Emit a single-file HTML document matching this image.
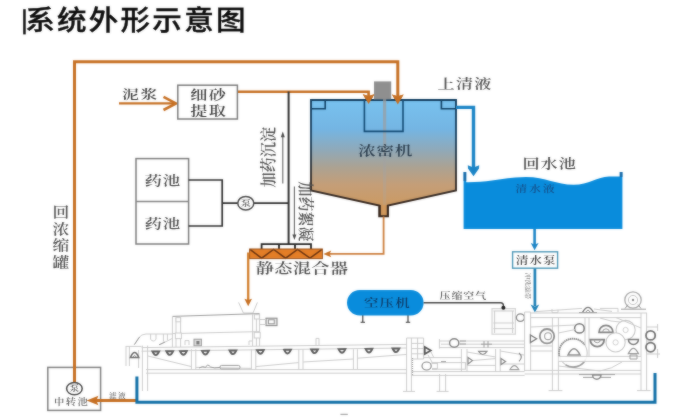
<!DOCTYPE html>
<html lang="zh-CN">
<head>
<meta charset="utf-8">
<title>系统外形示意图</title>
<style>
  html, body { margin: 0; padding: 0; background: #ffffff; }
  body { width: 700px; height: 420px; overflow: hidden; position: relative;
         font-family: "Liberation Sans", "Noto Sans CJK SC", sans-serif; }
  svg { position: absolute; left: 0; top: 0; display: block; }
  .title { font-family: "Liberation Sans", "Noto Sans CJK SC", sans-serif; font-size: 27.4px; font-weight: 500; letter-spacing: 2.05px; fill: #0c0c0c; stroke: #0c0c0c; stroke-width: 0.35px; }
  .lbl { font-family: "Liberation Serif", "Noto Serif CJK SC", serif; fill: #5a5a5a; font-weight: 600; }
  .or { stroke: #c66f22; fill: none; }
  .orf { fill: #c66f22; stroke: none; }
  .bl { stroke: #1a84c6; fill: none; }
  .blf { fill: #1a84c6; stroke: none; }
  .dk { stroke: #2e2e2e; fill: none; }
  .m { stroke: #cbcbcb; fill: none; stroke-width: 1; }
  .m2 { stroke: #9a9a9a; fill: none; stroke-width: 1; }
  .mw { stroke: #cbcbcb; fill: #ffffff; stroke-width: 1; }
</style>
</head>
<body>
<svg width="700" height="420" viewBox="0 0 700 420">
  <defs>
    <filter id="soften2" x="0" y="0" width="700" height="60" filterUnits="userSpaceOnUse" color-interpolation-filters="sRGB"><feGaussianBlur in="SourceGraphic" stdDeviation="0.8" result="b"/><feComposite in="SourceGraphic" in2="b" operator="arithmetic" k1="0" k2="0.6" k3="0.4" k4="0"/></filter>
    <filter id="soften" x="0" y="0" width="700" height="420" filterUnits="userSpaceOnUse" color-interpolation-filters="sRGB"><feGaussianBlur in="SourceGraphic" stdDeviation="0.8" result="b"/><feComposite in="SourceGraphic" in2="b" operator="arithmetic" k1="0" k2="0.55" k3="0.45" k4="0"/></filter>
    <filter id="soft" x="-5%" y="-5%" width="110%" height="110%"><feGaussianBlur stdDeviation="0.45"/></filter>
    <linearGradient id="tankg" x1="0" y1="99" x2="0" y2="206" gradientUnits="userSpaceOnUse">
      <stop offset="0" stop-color="#78c2ef"/>
      <stop offset="0.28" stop-color="#74b5e3"/>
      <stop offset="0.48" stop-color="#90a9b8"/>
      <stop offset="0.64" stop-color="#aca292"/>
      <stop offset="0.8" stop-color="#c49e78"/>
      <stop offset="1" stop-color="#cc9a62"/>
    </linearGradient>
    <linearGradient id="shaftg" x1="0" y1="99" x2="0" y2="206" gradientUnits="userSpaceOnUse">
      <stop offset="0" stop-color="#9a9a9a" stop-opacity="0.75"/>
      <stop offset="0.5" stop-color="#a0a0a0" stop-opacity="0.55"/>
      <stop offset="1" stop-color="#a8a8a8" stop-opacity="0.2"/>
    </linearGradient>
    <linearGradient id="wallg" x1="0" y1="99" x2="0" y2="206" gradientUnits="userSpaceOnUse">
      <stop offset="0" stop-color="#0f3b5d"/>
      <stop offset="0.35" stop-color="#1c4464"/>
      <stop offset="0.7" stop-color="#33302e"/>
      <stop offset="1" stop-color="#33231a"/>
    </linearGradient>
  </defs>
  <rect x="0" y="0" width="700" height="420" fill="#ffffff"/>
  <g id="all" filter="url(#soften)">
  <rect x="0" y="0" width="700" height="420" fill="#ffffff"/>


  <!-- ===== orange return loop ===== -->
  <g id="loop" class="or" stroke-width="3">
    <path d="M74.5 383 V61.8 H397.8 V96"/>
  </g>
  <path class="orf" d="M392 94.4 L397.8 96.2 L403.6 94.4 L397.8 104.4 Z"/>

  <!-- ===== slurry in ===== -->
  <g id="slurry">
    <text class="lbl" font-size="12.4" style="fill:#3c3c3c;letter-spacing:1.2px" transform="translate(122.0,98.9) scale(1.36,1)">泥浆</text>
    <path class="or" stroke-width="2.4" d="M119 103.4 H175"/>
    <path class="or" stroke-width="2.6" d="M163.5 96.8 L176 103.4 L163.5 110"/>
    <rect x="177.8" y="85.2" width="59.6" height="33.8" fill="#fff" stroke="#7c7c7c" stroke-width="1.5"/>
    <text class="lbl" font-size="12.6" style="fill:#3c3c3c;letter-spacing:1.0px" transform="translate(190.2,99.3) scale(1.36,1)">细砂</text>
    <text class="lbl" font-size="12.6" style="fill:#3c3c3c;letter-spacing:1.0px" transform="translate(190.2,115.0) scale(1.36,1)">提取</text>
    <path class="or" stroke-width="2.6" d="M238 91.7 H368.6 V96"/>
    <path class="orf" d="M362.8 94.2 L368.6 96 L374.4 94.2 L368.6 104 Z"/>
  </g>

  <!-- ===== thickener tank ===== -->
  <g id="tank">
    <path d="M311 100 H456 V190.4 L388 205.6 V216.2 H379.2 V205.6 L311 190.4 Z" fill="url(#tankg)" stroke="url(#wallg)" stroke-width="1.9" stroke-linejoin="miter"/>
    <rect x="383" y="99" width="3.2" height="107" fill="url(#shaftg)"/>
    <rect x="374" y="81.4" width="17.2" height="18" fill="#8f8f8f"/>
    <path d="M311 108.8 H325.2 V100" fill="none" stroke="#124266" stroke-width="1.6"/>
    <path d="M441.4 100 V108.8 H456" fill="none" stroke="#124266" stroke-width="1.6"/>
    <path d="M364.4 100 V131.4 H403 V100" fill="none" stroke="#124a74" stroke-width="1.6"/>
    <text class="lbl" font-size="13.0" style="fill:#2c3e4e;letter-spacing:0.5px" transform="translate(358.0,155.2) scale(1.36,1)">浓密机</text>
    <path d="M380 205 V216 H387.6 V205" fill="#d0985c" stroke="#33231a" stroke-width="1.6"/>
  </g>
  <path class="orf" d="M362.8 94.2 L368.6 96 L374.4 94.2 L368.6 104 Z"/>
  <path class="orf" d="M392 94.4 L397.8 96.2 L403.6 94.4 L397.8 104.4 Z"/>

  <!-- ===== overflow ===== -->
  <g id="overflow">
    <text class="lbl" font-size="12.6" style="fill:#505050;letter-spacing:0.9px" transform="translate(437.6,88.0) scale(1.36,1)">上清液</text>
    <path class="bl" stroke-width="3.4" d="M456 107.4 H473.5 V168"/>
    <path class="blf" d="M467.8 165.2 L473.5 167.4 L479.2 165.2 L479 168.6 L473.5 176.2 L468 168.6 Z"/>
  </g>

  <!-- ===== clear water pool ===== -->
  <g id="pool">
    <text class="lbl" font-size="12.6" style="fill:#484848;letter-spacing:0.8px" transform="translate(522.4,168.0) scale(1.36,1)">回水池</text>
    <path d="M463.6 172 V229 H622.4 V172 H619.8 V176.4 L609 176.4 C597 176.6 589 184.8 573.6 184.8 C556 184.8 546 177 526 177 C506 177 490 182.5 466.2 182.2 V172 Z" fill="#098cdc"/>
    <path d="M463.6 172 H466.2 V181 H463.6 Z M619.8 172 H622.4 V177 H619.8 Z" fill="#1668a6"/>
    <text class="lbl" font-size="8.6" style="fill:#15508a;letter-spacing:1.6px" transform="translate(515.4,191.8) scale(1.36,1)">清水液</text>
    <path class="bl" stroke-width="2.6" d="M534.6 229 V245"/>
    <path class="blf" d="M530.8 243 L534.6 244.6 L538.6 243 L534.6 250.2 Z"/>
    <rect x="512.6" y="251.8" width="45" height="16.4" fill="#fff" stroke="#4a96b6" stroke-width="1.4"/>
    <text class="lbl" font-size="10.0" style="fill:#444;letter-spacing:0.5px" transform="translate(515.8,263.6) scale(1.28,1)">清水泵</text>
    <path class="bl" stroke-width="2.7" style="stroke:#1e80b6" d="M534.9 268.6 V306"/>
    <path class="blf" style="fill:#1f82b8" d="M530.6 304.6 L534.9 306.4 L539.2 304.6 L534.9 312.6 Z"/>
    <text class="lbl" font-size="5.6" style="fill:#888" transform="translate(526.4,272.5) rotate(90) scale(1.2,1)">冲洗滤带</text>
  </g>

  <!-- ===== dosing ===== -->
  <g id="dosing">
    <rect x="136" y="158.6" width="52.6" height="85.4" fill="#fff" stroke="#7c7c7c" stroke-width="1.5"/>
    <path d="M136 201.5 H188.6" stroke="#848484" stroke-width="1.4" fill="none"/>
    <text class="lbl" font-size="12.8" style="fill:#4a4a4a;letter-spacing:0.7px" transform="translate(144.5,185.4) scale(1.36,1)">药池</text>
    <text class="lbl" font-size="12.8" style="fill:#4a4a4a;letter-spacing:0.7px" transform="translate(144.5,228.0) scale(1.36,1)">药池</text>
    <path class="dk" stroke-width="1.7" d="M188.6 180 H222.2 V226 H188.6 M222.2 203.2 H238 M253.6 203.2 H288.5"/>
    <ellipse cx="245.8" cy="203.2" rx="8" ry="6.8" fill="#fff" stroke="#484848" stroke-width="1.5"/>
    <text class="lbl" font-size="8" style="fill:#505050" transform="translate(240.8,206) scale(1.25,1)">泵</text>
    <path class="dk" stroke-width="2" d="M288.6 91.5 V244.4"/>
    <text class="lbl" font-size="15.2" style="fill:#505050" transform="translate(274,187.6) rotate(-90) scale(1,1.06)">加药沉淀</text>
    <path d="M282.8 183.6 V135" stroke="#606060" stroke-width="1.1" fill="none"/>
    <path d="M280.8 137.2 L282.8 131.6 L284.8 137.2 Z" fill="#484848"/>
    <text class="lbl" font-size="15" style="fill:#505050" transform="translate(300.2,181.6) rotate(90) scale(1,1.06)">加药絮凝</text>
    <path d="M294.4 186.6 V236" stroke="#606060" stroke-width="1.1" fill="none"/>
    <path d="M292.4 234.4 L294.4 240 L296.4 234.4 Z" fill="#484848"/>
  </g>

  <!-- ===== static mixer ===== -->
  <g id="mixer">
    <path class="dk" stroke-width="1.8" style="stroke:#222" d="M261.6 249 V244.2 H311 V249 M279 244.2 V249 M295 244.2 V249"/>
    <rect x="249.6" y="249" width="72.8" height="9.6" fill="#e47e26"/>
    <path d="M250 249.4 L261.6 258.2 L273.6 249.4 L285.6 258.2 L297.6 249.4 L310 258.2 L322 249.4" fill="none" stroke="#6e3610" stroke-width="1.5"/>
    <rect x="249.6" y="249" width="72.8" height="9.6" fill="none" stroke="#9a5018" stroke-width="1"/>
    <text class="lbl" font-size="13.4" style="fill:#4c4c4c;letter-spacing:0.2px" transform="translate(255.8,272.7) scale(1.36,1)">静态混合器</text>
    <path d="M383.6 216.4 V253.9 H329" fill="none" stroke="#cc7e3c" stroke-width="1.8"/>
    <path class="orf" d="M331.2 250.6 L323.4 253.9 L331.2 257.2 L329.6 253.9 Z"/>
    <path d="M249.6 253.6 H248.2 V300" fill="none" stroke="#d27e2c" stroke-width="2.3"/>
    <path class="orf" d="M244.4 298.8 L248.2 300 L252 298.8 L248.2 306.2 Z"/>
  </g>

  <!-- ===== compressor ===== -->
  <g id="compressor">
    <path class="dk" stroke-width="1.1" d="M362.8 315 V322 M360.6 322.2 H365 M408 315 V322 M405.8 322.2 H410.2" stroke="#666"/>
    <rect x="347" y="290" width="76.6" height="25.6" rx="12.8" ry="12.8" fill="#098cdc"/>
    <text class="lbl" font-size="11.3" style="fill:#0e3c68;letter-spacing:0.9px" transform="translate(364.0,307.2) scale(1.28,1)">空压机</text>
    <path class="dk" stroke-width="1.4" style="stroke:#444" d="M423.6 302.7 H500.6 Q503.4 302.7 503.4 305.6 V307"/>
    <text class="lbl" font-size="8.6" style="fill:#555;letter-spacing:0.7px" transform="translate(439.6,298.6) scale(1.28,1)">压缩空气</text>
  </g>

  <!-- ===== transfer pit ===== -->
  <g id="pit">
    <rect x="47.8" y="367.4" width="52.8" height="43" fill="#fff" stroke="#808080" stroke-width="1.5"/>
    <path class="or" stroke-width="3" d="M74.5 360 V383"/>
    <ellipse cx="74.4" cy="388.6" rx="7.8" ry="6.2" fill="#fff" stroke="#484848" stroke-width="1.5"/>
    <text class="lbl" font-size="7.6" style="fill:#505050" transform="translate(69.6,391.4) scale(1.25,1)">泵</text>
    <text class="lbl" font-size="8.6" style="fill:#666;letter-spacing:1.2px" transform="translate(54.0,404.8) scale(1.2,1)">中转池</text>
    <path class="or" stroke-width="3" d="M136 400.5 H95"/>
    <path class="orf" d="M98.4 395.8 L86.6 400.5 L98.4 405.2 L96.4 400.5 Z"/>
    <text class="lbl" font-size="6.4" style="fill:#707070;letter-spacing:1.2px" transform="translate(109.0,398.2) scale(1.2,1)">滤液</text>
  </g>

  <!-- ===== return label ===== -->
  <g id="retlabel">
    <text class="lbl" font-size="13.2" style="fill:#505050" transform="translate(52.4,0) scale(1.27,1)" x="0 0 0 0" y="217.2 233.8 250.4 267.4">回浓缩罐</text>
  </g>

  <!-- ===== machine (belt filter press) ===== -->
  <g id="machine" fill="none" stroke-linecap="butt">
    <!-- hopper -->
    <path class="m" d="M238.6 302.4 L243.4 313 H253 L257.4 302.4"/>
    <!-- drum thickener -->
    <path class="m2" stroke-width="1.7" stroke="#808080" d="M172.4 316.4 L259.6 313.6"/>
    <path class="m" d="M172.4 316.4 V347 M259.6 313.6 V346 M172.4 333.6 L259.6 331.6 M180.6 316.4 V347 M252.6 314 V346 M176 317.5 V347 M256.4 314 V346"/>
    <rect class="mw" x="175.4" y="333" width="6" height="5.6"/>
    <rect class="mw" x="254.2" y="332.4" width="6" height="5.6"/>
    <rect class="mw" x="254.4" y="314.6" width="5" height="4.4"/>
    <rect class="mw" x="176" y="317.6" width="4.6" height="4.2"/>
    <!-- motor -->
    <rect x="266" y="318.2" width="11" height="7.4" fill="#e6e6e6" stroke="#8c8c8c" stroke-width="1.1"/>
    <rect x="268.6" y="319.8" width="5.6" height="4" fill="#fff" stroke="#8c8c8c" stroke-width="0.9"/>
    <path class="m" d="M260 319.5 H266 M260 324.5 H266"/>
    <!-- feed chute -->
    <path class="m" d="M134 345 L138.4 338 Q141.6 334 146 334 H172.4 M160 344.6 L172.4 338.4 M150.6 334 V339.4 Q153.4 342.6 156 339.4 V334 M163.4 334 V341.6 M167.4 334 V340"/>
    <path class="m2" d="M134.6 344.4 L139.6 337"/>
    <path class="m2" d="M159 344.8 L165 342"/>
    <!-- small dark box -->
    <rect x="194" y="339.2" width="7.4" height="6.6" fill="#ddd" stroke="#999" stroke-width="1"/>
    <rect x="196.4" y="341" width="3" height="3.4" fill="#777" stroke="none"/>
    <path class="m" d="M185 345 V340.6 H189 V345 M249 345 V341 H252 M316 345 V338.4 H319 V345"/>
    <!-- bed rails -->
    <path class="m" d="M141.6 347.6 L407 344.4 M141.6 351.2 L407 348 M146 369.6 H407 M146 373.2 H407"/>
    <path class="m" stroke="#d4d4d4" d="M411.4 371.6 H524.6 M411.4 375.4 H524.6"/>
    <!-- posts -->
    <path class="m" d="M142.4 345.6 V391 M147.6 345.6 V391 M191.4 349.2 V369.6 M195.8 349.2 V369.6 M251.4 349.2 V369.6 M255.8 349.2 V369.6 M298.8 349.2 V369.6 M303 349.2 V369.6 M353.4 349.2 V369.6 M357.4 349.2 V369.6"/>
    <!-- lower belt lines -->
    <path class="m" d="M148 356 L191.4 366.6 M196 367.4 L251 368.4 M256 366.6 L298.6 362.6 M303.2 362 L353.4 359 M357.6 358.2 L407 354.4"/>
    <!-- tensioner -->
    <path class="m2" d="M199 368 Q203 365.4 205.6 367.4 Q207.4 363 210.6 367 Q214 368.6 220 367.4"/>
    <rect x="220" y="365.4" width="20" height="3.6" rx="1.6" class="m2"/>
    <!-- left end -->
    <path class="m" d="M126 346 V366 M129.4 346 V366 M138.6 350 V368 M126 346.4 H141.6" stroke="#dadada"/>
    <path d="M130.4 357.6 Q134.6 347.6 138.8 357.6 Z" fill="#fff" stroke="#6a6a6a" stroke-width="1.5"/>
    <path d="M133 357 Q134.6 354 136.2 357" stroke="#888" stroke-width="0.9"/>
    <!-- belt rollers -->
    <g id="rollers" stroke="#5c5c5c" stroke-width="1.9" fill="#fff" transform="translate(0,1.4) rotate(-0.7 155 351.6)">
      <path d="M152.4 350 H159.2 Q155.8 357.4 152.4 350 Z"/>
      <path d="M166.4 350 H173.2 Q169.8 357.4 166.4 350 Z"/>
      <path d="M180 350 H186.8 Q183.4 357.4 180 350 Z"/>
      <path d="M202 350 H208.8 Q205.4 357.4 202 350 Z"/>
      <path d="M229.6 350 H236.4 Q233 357.4 229.6 350 Z"/>
      <path d="M257 350 H263.8 Q260.4 357.4 257 350 Z"/>
      <path d="M284.2 350 H291 Q287.6 357.4 284.2 350 Z"/>
      <path d="M311.2 350 H318 Q314.6 357.4 311.2 350 Z"/>
      <path d="M338.6 350 H345.4 Q342 357.4 338.6 350 Z"/>
      <path d="M365.6 350 H372.4 Q369 357.4 365.6 350 Z"/>
      <path d="M392.6 350 H399.4 Q396 357.4 392.6 350 Z"/>
    </g>
    <!-- ===== middle section ===== -->
    <path class="m" d="M406.6 338 V391.4 M411.4 338 V391.4 M406.6 338 H423.6 V359 H411.4 M417.6 338 V359 M411.4 343.4 H423.6 M411.4 348.6 H423.6 M411.4 353.8 H423.6"/>
    <path class="m2" d="M412.6 358 V376" stroke-dasharray="1 1" stroke="#999"/>
    <path d="M424.8 347 L430.8 350.5 L424.8 354 Z" fill="#fff" stroke="#555" stroke-width="1.7"/>
    <path class="m" d="M431 352 L434 358 M428 355 L432 362"/>
    <!-- upper mid band -->
    <path class="m" d="M439.4 339 V348.6 M439.4 341 H524.4 M439.4 347.6 H524.4 M441 344.2 H524.4"/>
    <ellipse cx="454.2" cy="343" rx="4.6" ry="4.2" fill="#fff" stroke="#808080" stroke-width="1.4"/>
    <path class="m2" d="M460 341 H466 M460 344 H466 M484 341 V347.6 M488 341 V347.6 M481 344.2 H492"/>
    <!-- lower mid -->
    <ellipse cx="426.6" cy="366" rx="4.6" ry="4" fill="#fff" stroke="#8a8a8a" stroke-width="1.2"/>
    <path class="m2" d="M431.4 363 H438 M432 369 H437"/>
    <rect x="437.4" y="362.6" width="28" height="6.6" class="m"/>
    <path class="m2" d="M441 361.6 H446" stroke="#666" stroke-width="1.4"/>
    <path class="m" d="M461.4 349 V372 M467 349 V372 M495.6 349 V372 M500.2 349 V372 M467 352 L495.6 357 M467 361 L495.6 358.6 M467 365.4 H495.6 M500.2 351 L524 355 M500.2 364 H524 M423.6 357.6 H461.4"/>
    <path d="M468 357.4 L472.4 360.6 L468 364 Z" fill="#fff" stroke="#888" stroke-width="1.2"/>
    <path d="M478.6 351.4 H487 Q482.8 357.6 478.6 351.4 Z" fill="#fff" stroke="#888" stroke-width="1.1"/>
    <path d="M501 358.4 L505.6 361.4 L501 364.6 Z" fill="#fff" stroke="#888" stroke-width="1.2"/>
    <path d="M510 369.6 Q514.4 361.6 518.8 369.6 Z" fill="#fff" stroke="#999" stroke-width="1.1"/>
    <path d="M519 353 Q523.6 357 519 361.4" stroke="#888" stroke-width="1.2"/>
    <path class="m" d="M439.6 374 V391.4 M445.6 374 V391.4 M436.6 391.4 H448.6"/>
    <path class="m" d="M403 391.4 H415"/>
    <!-- air box -->
    <rect x="492" y="308.6" width="23.4" height="25.6" fill="#fcfcfc" stroke="#d4d4d4" stroke-width="1.2"/>
    <path class="m" d="M493.4 311 H514 M493.4 323 H514 M493.4 328.6 H514 M494.6 311 V333 M512.6 311 V333" stroke="#dcdcdc"/>
    <ellipse cx="520.4" cy="317.6" rx="4" ry="3.8" fill="#fff" stroke="#888" stroke-width="1.3"/>
    <!-- ===== press section ===== -->
    <path class="m" d="M524.6 312 V371 M530.6 312 V371 M524.6 312 H530.6"/>
    <path class="m" d="M530.6 313 H647 M530.6 317.6 H641"/>
    <path class="m" d="M552.4 317.6 V390.4 M558.4 317.6 V390.4 M585 317.6 V356 M589 317.6 V356 M641 313 V390.4 M646.6 313 V390.4 M548.6 390.6 H562.4 M637 390.6 H650.6"/>
    <path class="m" d="M524.6 370.4 H641 M524.6 374 H641 M558.4 366 L600 371 M600 371 Q612 369 622 362 M530.6 346 H552.4 M530.6 351 H552.4"/>
    <!-- top belt & parts -->
    <path class="m" d="M536 311.6 L582 308.4 M594 309 L612 311.4 M552 309 V312.6 H558 V309.6 M600 308.4 H618 V312"/>
    <path d="M582.6 312.4 Q588 302.4 593.4 312.4" fill="#fff" stroke="#777" stroke-width="1.4"/>
    <path d="M586 312 Q588 308.4 590 312" stroke="#888" stroke-width="0.9"/>
    <path class="m2" d="M579 312.6 H597"/>
    <!-- motor top right -->
    <circle cx="633" cy="300" r="8.2" fill="#fff" stroke="#aaaaaa" stroke-width="1.3"/>
    <circle cx="633" cy="300" r="4.6" fill="#fff" stroke="#c4c4c4" stroke-width="1"/>
    <circle cx="633" cy="300" r="1.2" fill="#888" stroke="none"/>
    <path class="m2" d="M625 308.6 L628 304.6 M641 308.6 L638 304.6 M621 309.2 H646" stroke="#aaa"/>
    <!-- rollers in press -->
    <path d="M530.4 335 L536.6 338.8 L530.4 342.6 Z" fill="#fff" stroke="#777" stroke-width="1.3"/>
    <ellipse cx="547" cy="336.2" rx="7.2" ry="7.2" fill="#fff" stroke="#8c8c8c" stroke-width="1.8"/>
    <ellipse cx="548" cy="336.2" rx="3.4" ry="3.4" fill="#fff" stroke="#a0a0a0" stroke-width="1.1"/>
    <ellipse cx="579.4" cy="328.4" rx="4.8" ry="4.6" fill="#fff" stroke="#777" stroke-width="1.5"/>
    <path class="m" d="M531 327 L575 325 M558.4 333 L575 329.6"/>
    <!-- big drum -->
    <circle cx="573.2" cy="353" r="14" fill="#fff" stroke="#c8c8c8" stroke-width="1.1"/>
    <path d="M559.4 356 A14 14 0 0 1 584.6 344.8" stroke="#8e8e8e" stroke-width="1.8" stroke-dasharray="1.4 0.6"/>
    <path d="M565.6 364.8 A14 14 0 0 0 585.6 359.6" stroke="#9a9a9a" stroke-width="1.6"/>
    <path d="M568 355 Q574 342.6 580 355 Z" fill="#fff" stroke="#8a8a8a" stroke-width="1.5"/>
    <rect x="558.6" y="356.4" width="82.2" height="5" fill="#fff" stroke="none" opacity="0.85"/>
    <path class="m" d="M558.4 356.4 H641 M558.4 361.4 H641"/>
    <!-- right group -->
    <path d="M599 332.4 A7 7 0 0 1 613 332.4 Z" fill="#fff" stroke="#808080" stroke-width="1.7"/>
    <path d="M602.6 332.2 A3.4 3.4 0 0 1 609.4 332.2" stroke="#999" stroke-width="1"/>
    <circle cx="625.6" cy="330" r="9.6" fill="#fff" stroke="#c6c6c6" stroke-width="1.1"/>
    <circle cx="625.6" cy="330" r="2.6" stroke="#d0d0d0" stroke-width="1"/>
    <circle cx="615.6" cy="342.4" r="9.6" fill="#fff" stroke="#c6c6c6" stroke-width="1.1"/>
    <circle cx="615.6" cy="342.4" r="2.6" stroke="#d0d0d0" stroke-width="1"/>
    <path d="M590.2 339.6 A7 7 0 0 0 604.2 339.6 Z" fill="#fff" stroke="#808080" stroke-width="1.8"/>
    <path d="M594 339.6 A3.2 3.2 0 0 0 600.4 339.6" stroke="#999" stroke-width="1"/>
    <path d="M628.4 339.4 A5 5 0 0 0 638.4 339.4 Z" fill="#fff" stroke="#777" stroke-width="1.5"/>
    <path d="M628.4 353.6 Q633.4 343 638.4 353.6 Z" fill="#fff" stroke="#999" stroke-width="1.3"/>
    <path class="m2" d="M630 355 H637 V359 H630 Z" stroke="#aaa"/>
    <path class="m" d="M600 318 Q612 322 620 322 M616 317.6 L641 328"/>
    <!-- outer right rollers -->
    <ellipse cx="650.6" cy="335.4" rx="4.6" ry="4.6" fill="#fff" stroke="#707070" stroke-width="1.8"/>
    <ellipse cx="650.6" cy="347.2" rx="4.6" ry="4.6" fill="#fff" stroke="#707070" stroke-width="1.8"/>
    <path class="m" d="M646.6 327 H658 M646.6 341 H652 M646.6 354 H660 M657.6 324 V331 M657.6 349 V358" stroke="#bbb"/>
    <!-- bottom roller -->
    <path class="m2" d="M579 374.6 H615 M583 377.4 H611" stroke="#aaa"/>
    <path d="M592.6 375 A4.2 4.2 0 0 0 601 375 Z" fill="#fff" stroke="#888" stroke-width="1.4"/>
  </g>

  <circle cx="503.4" cy="307.8" r="2" fill="#1c1c1c"/>

  <path d="M340.4 414.4 H347.8" stroke="#a8a8a8" stroke-width="1.3" fill="none"/>

  <!-- ===== drain tray ===== -->
  <g id="tray">
    <path class="bl" stroke-width="3" style="stroke:#0f6ea6" d="M136.9 376.6 V402.2 H655 V373"/>
  </g>
  </g>

  <!-- ===== title ===== -->
  <g id="title" filter="url(#soften2)">
    <rect x="23.2" y="9.2" width="2.5" height="25.2" fill="#111"/>
    <text class="title" transform="translate(25.2,29.5) scale(1.08,1)">系统外形示意图</text>
  </g>
</svg>
</body>
</html>
